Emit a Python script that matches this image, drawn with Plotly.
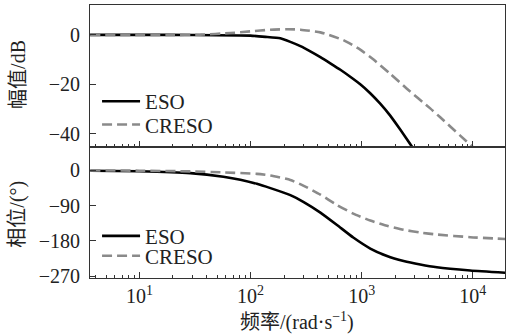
import plotly.graph_objects as go
from plotly.subplots import make_subplots

# ---------------- data ----------------
# magnitude (dB) vs frequency (rad/s)
eso_mag_w = [3.6, 10, 30, 99.5, 136, 185, 228, 281, 345, 425, 522, 643, 789, 971, 1194, 1469, 1807, 2223, 2831, 3365]
eso_mag_db = [0, 0, -0.05, -0.32, -0.81, -1.41, -2.83, -4.57, -6.67, -9.01, -11.52, -14.14, -16.97, -20.0,
              -23.64, -27.88, -32.73, -38.38, -45.25, -50.5]

creso_mag_w = [3.6, 19.0, 35.4, 65.8, 99.5, 151, 214, 281, 425, 684, 971, 1279, 1807, 2553, 4140, 5093,
               7709, 9886, 11670]
creso_mag_db = [0, 0, 0.08, 0.73, 1.41, 2.10, 2.30, 2.10, 1.01, -2.14, -5.98, -10.02, -15.76, -21.82,
                -29.78, -33.41, -40.81, -45.25, -48.28]

# phase (deg) vs frequency (rad/s)
eso_ph_w = [3.62, 10, 28.7, 56.9, 80.9, 114, 151, 228, 301, 425, 600, 840, 1196, 1690, 2384, 3365,
            4753, 9484, 19540]
eso_ph_deg = [-0.8, -2.3, -7.1, -16.1, -23.7, -34.4, -45.4, -63.2, -81.1, -107.9, -139.7, -171.6,
              -199.7, -218.8, -231.5, -240.5, -247.6, -255.7, -261.6]

creso_ph_w = [3.62, 10, 28.7, 56.9, 114, 151, 228, 301, 425, 600, 840, 1196, 1690, 2384, 3365, 4753,
              9484, 19540]
creso_ph_deg = [0, -0.8, -2.6, -5.1, -8.9, -13.0, -24.5, -39.5, -62.0, -88.7, -110.4, -128.3, -141.8,
                -151.8, -158.9, -164.0, -170.7, -175.3]

x_tick_vals = [10, 100, 1000, 10000]
x_tick_text = ["10<sup>1</sup>", "10<sup>2</sup>", "10<sup>3</sup>", "10<sup>4</sup>"]
mag_ticks = [0, -20, -40]
ph_ticks = [0, -90, -180, -270]
minor_vals = [m * 10 ** k for k in range(0, 5) for m in range(2, 10)]

series_names = ["ESO", "CRESO"]
# ---------------------------------------------------------------

FONT = "Liberation Serif, Times New Roman, Noto Sans CJK SC, serif"
black = "#000000"
gray = "#8a8a8a"
txt = "#222222"
axc = "#333333"

fig = make_subplots(rows=2, cols=1, shared_xaxes=True, vertical_spacing=0)

line_eso = dict(color=black, width=2.6, shape="spline", smoothing=0.5)
line_creso = dict(color=gray, width=2.6, dash="10px,5px", shape="spline", smoothing=0.5)

fig.add_trace(go.Scatter(x=eso_mag_w, y=eso_mag_db, name=series_names[0], mode="lines",
                         line=line_eso, legend="legend"), row=1, col=1)
fig.add_trace(go.Scatter(x=creso_mag_w, y=creso_mag_db, name=series_names[1], mode="lines",
                         line=line_creso, legend="legend2"), row=1, col=1)
fig.add_trace(go.Scatter(x=eso_ph_w, y=eso_ph_deg, name=series_names[0], mode="lines",
                         line=line_eso, legend="legend3"), row=2, col=1)
fig.add_trace(go.Scatter(x=creso_ph_w, y=creso_ph_deg, name=series_names[1], mode="lines",
                         line=line_creso, legend="legend4"), row=2, col=1)

axis_common = dict(showline=True, linecolor=axc, linewidth=1, mirror=True,
                   showgrid=False, zeroline=False, ticks="inside",
                   tickcolor=axc, tickfont=dict(family=FONT, size=20, color=txt))

xrange = [0.555, 4.29]
fig.update_xaxes(type="log", range=xrange, tickvals=x_tick_vals, ticktext=x_tick_text,
                 ticklen=6, tickwidth=1, ticklabelstandoff=0,
                 minor=dict(ticks="inside", ticklen=3, tickvals=minor_vals, tickcolor=axc, tickwidth=1),
                 **axis_common)
fig.update_xaxes(showticklabels=False, row=1, col=1)

fig.update_yaxes(range=[-45.3, 12.1], tickvals=mag_ticks, ticklen=6, ticklabelstandoff=5,
                 row=1, col=1, **axis_common)
fig.update_yaxes(range=[-275, 60.5], tickvals=ph_ticks, ticklen=6, ticklabelstandoff=5,
                 row=2, col=1, **axis_common)


def leg(y):
    return dict(x=0.017, y=y, xanchor="left", yanchor="middle", bgcolor="rgba(0,0,0,0)",
                font=dict(family=FONT, size=21, color=txt), itemwidth=38, tracegroupgap=0)


fig.update_layout(
    width=516, height=336,
    margin=dict(l=90, r=11, t=5, b=57.5),
    paper_bgcolor="white", plot_bgcolor="white",
    font=dict(family=FONT, size=20, color=txt),
    yaxis=dict(domain=[0.481, 1.0]),
    yaxis2=dict(domain=[0.0, 0.481]),
    showlegend=True,
    legend=leg(0.646), legend2=leg(0.561), legend3=leg(0.153), legend4=leg(0.080),
    annotations=[
        dict(text="幅值/dB", xref="paper", yref="paper", x=0, y=0.744, xshift=-72,
             textangle=-90, showarrow=False, xanchor="center", yanchor="middle",
             font=dict(family=FONT, size=20, color=txt)),
        dict(text="相位/(°)", xref="paper", yref="paper", x=0, y=0.232, xshift=-72,
             textangle=-90, showarrow=False, xanchor="center", yanchor="middle",
             font=dict(family=FONT, size=20, color=txt)),
        dict(text="频率/(rad·s<sup>−1</sup>)", xref="paper", yref="paper", x=0.499, y=0, yshift=-43.5,
             showarrow=False, xanchor="center", yanchor="middle",
             font=dict(family=FONT, size=20, color=txt)),
    ],
)

fig.write_html("out.html", config={"displayModeBar": False},
               post_script="document.body.style.margin='0px';")
